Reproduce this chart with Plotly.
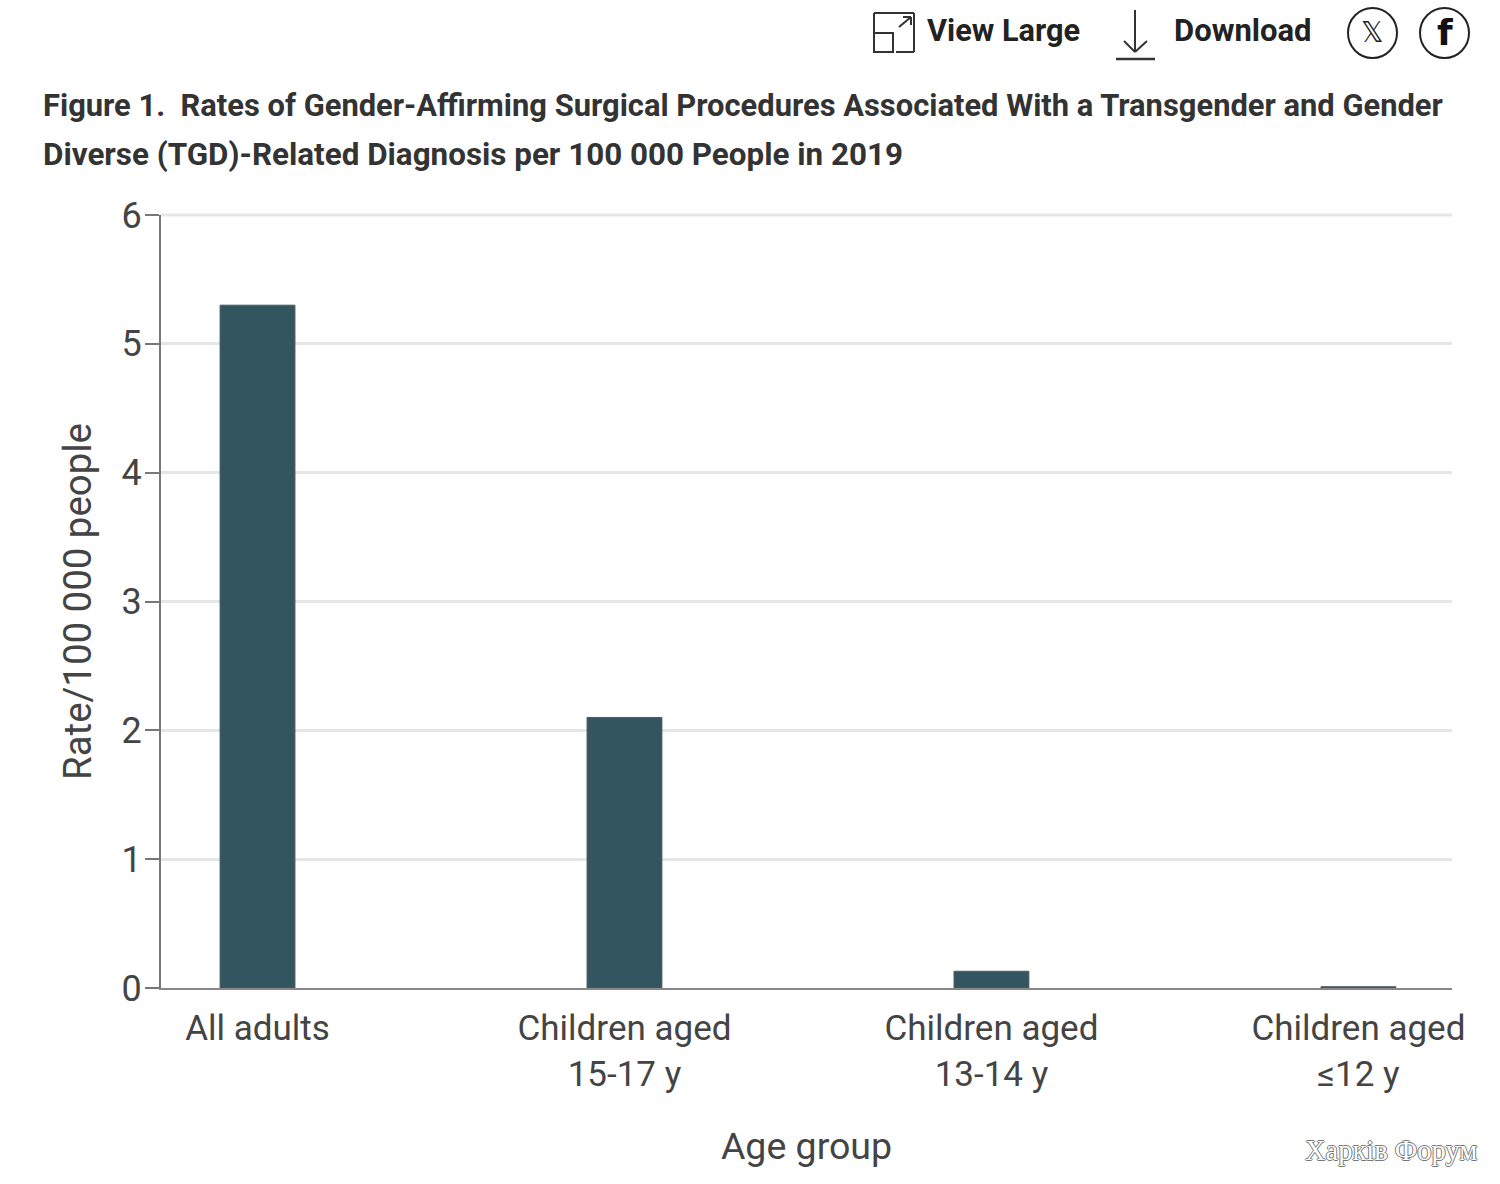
import plotly.graph_objects as go

categories = ["All adults", "Children aged<br>15-17 y", "Children aged<br>13-14 y", "Children aged<br>≤12 y"]
rates = [5.3, 2.1, 0.13, 0.01]
y_ticks = [0, 1, 2, 3, 4, 5, 6]
title_lines = ["<b>Figure 1.  Rates of Gender-Affirming Surgical Procedures Associated With a Transgender and Gender</b>",
               "<b>Diverse (TGD)-Related Diagnosis per 100 000 People in 2019</b>"]

W, H = 1500, 1184
L, R, T, B = 161, 1452, 215, 988
FONT = "Roboto, sans-serif"
INK = "#444444"

def px(x):
    return (x - L) / (R - L)

def py(y):
    return (B - y) / (B - T)

fig = go.Figure(go.Bar(
    x=list(range(len(rates))), y=rates, width=0.204,
    marker=dict(color="#325560", line=dict(color="#4a5a60", width=1)),
    showlegend=False,
))

shapes = []
def line(x0, y0, x1, y1, w=2, c="#333333"):
    shapes.append(dict(type="line", xref="paper", yref="paper", x0=px(x0), y0=py(y0), x1=px(x1), y1=py(y1),
                       line=dict(color=c, width=w), layer="above"))

def rect(x0, y0, x1, y1, w=2, c="#333333"):
    shapes.append(dict(type="rect", xref="paper", yref="paper", x0=px(x0), y0=py(y0), x1=px(x1), y1=py(y1),
                       line=dict(color=c, width=w), layer="above"))

def circle(x0, y0, x1, y1):
    shapes.append(dict(type="circle", xref="paper", yref="paper", x0=px(x0), y0=py(y0), x1=px(x1), y1=py(y1),
                       line=dict(color="#222222", width=2), layer="above"))

# top gridline, which the axis would otherwise drop at the end of its range
shapes.append(dict(type="line", xref="paper", yref="paper", x0=0, x1=1, y0=1, y1=1,
                   line=dict(color="#e6e6e6", width=3), layer="below"))
# view-large icon
rect(874, 33, 893, 52)
line(874, 33, 874, 13); line(874, 13, 914, 13); line(914, 13, 914, 52); line(914, 52, 896, 52)
line(899, 27, 911, 17); line(903, 17, 911, 17); line(911, 17, 911, 25)
# download icon
line(1135, 10, 1135, 52); line(1124, 41, 1135, 52); line(1147, 41, 1135, 52); line(1116, 59, 1155, 59, w=2.5)
# social icons
circle(1348, 8, 1397, 58); circle(1420, 8, 1469, 58)

def note(x, y, text, size, color="#222222", anchor="left", font=FONT, **kw):
    return dict(xref="paper", yref="paper", x=px(x), y=py(y), text=text, showarrow=False,
                xanchor=anchor, yanchor="middle", font=dict(family=font, size=size, color=color, **kw))

annotations = [
    note(925, 31, "<b>View Large</b>", 30.7),
    note(1172, 31, "<b>Download</b>", 31),
    note(1372.5, 33, "𝕏", 28, anchor="center", font="DejaVu Sans"),
    note(1444.5, 33, "<b>f</b>", 36, color="#111111", anchor="center", font="DejaVu Sans"),
    note(41, 105, title_lines[0], 30.9, color="#333333"),
    note(41, 154, title_lines[1], 31.4, color="#333333"),
    note(1391, 1150, "Харків Форум", 28.5, color="#ffffff", anchor="center", font="Liberation Serif",
         shadow="1px 0 #777, -1px 0 #777, 0 1px #777, 0 -1px #777"),
]

fig.update_layout(
    width=W, height=H, autosize=False,
    margin=dict(l=L, r=W - R, t=T, b=H - B, pad=0),
    paper_bgcolor="white", plot_bgcolor="white",
    font=dict(family=FONT, color=INK, size=35),
    shapes=shapes, annotations=annotations,
    xaxis=dict(
        range=[-0.263, 3.255], tickmode="array", tickvals=list(range(len(categories))), ticktext=categories,
        showgrid=False, zeroline=False, showline=True, linecolor="#888888", linewidth=2,
        ticks="", ticklabelstandoff=8, tickfont=dict(size=35, color=INK),
        title=dict(text="Age group", font=dict(size=37.5, color=INK), standoff=39),
    ),
    yaxis=dict(
        range=[0, 6], tickmode="array", tickvals=y_ticks,
        showgrid=True, gridcolor="#e6e6e6", gridwidth=3, zeroline=False,
        showline=True, linecolor="#777777", linewidth=2,
        ticks="outside", ticklen=14, tickwidth=2, tickcolor="#777777",
        ticklabelstandoff=-4, tickfont=dict(size=36, color=INK),
        title=dict(text="Rate/100 000 people", font=dict(size=38.4, color=INK), standoff=18),
    ),
)

fig.write_html("out.html", config={"displayModeBar": False},
               post_script="document.body.style.margin='0';")
